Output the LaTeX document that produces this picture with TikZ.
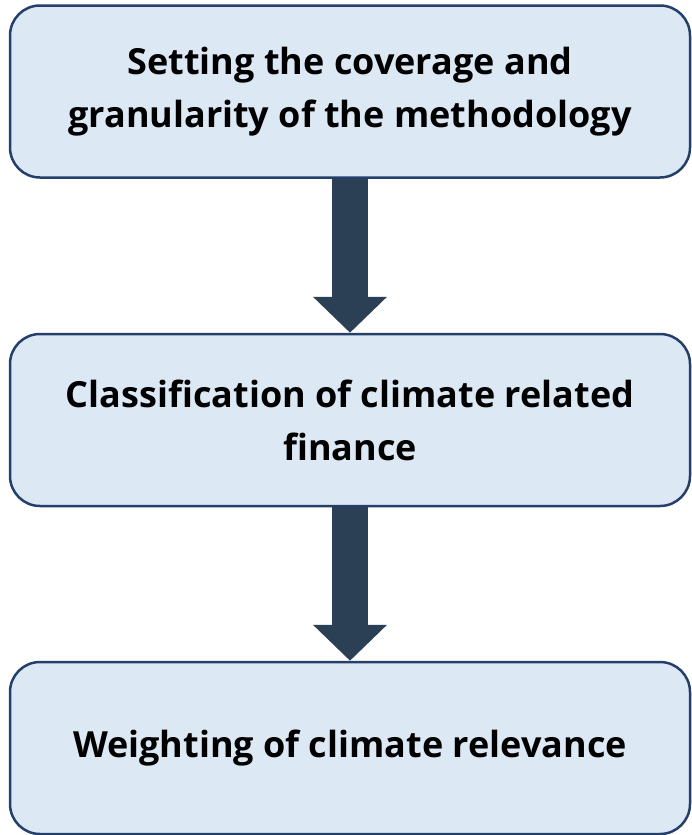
\documentclass[tikz,border=0pt]{standalone}
\usepackage{fontspec}
\setmainfont{Open Sans}
\usepackage{tikz}
\usetikzlibrary{arrows.meta}
\usetikzlibrary{positioning}
\definecolor{boxfill}{HTML}{DDE8F5}
\definecolor{boxline}{HTML}{24406A}
\definecolor{arrowcol}{HTML}{2B3F55}

\begin{document}
\begin{tikzpicture}[
x=1pt,y=1pt,
StepBox/.style={draw=boxline,fill=boxfill,line width=2.5pt,rounded corners=30pt,
  minimum width=680pt,minimum height=172pt,align=center,
  font=\fontsize{36}{53}\selectfont\bfseries},
BigArrow/.style={draw=arrowcol,line width=36pt,-{Triangle[length=36pt,width=72pt]}}
]
\useasboundingbox (0,0) rectangle (692,-835);

\node[StepBox] (cover) at (350,-91.5) {Setting the coverage and\\granularity of the methodology};
\node[StepBox] (classify) at (350,-420) {Classification of climate related\\finance};
\node[StepBox] (weight) at (350,-748) {Weighting of climate relevance};

\draw[BigArrow] (cover.south) -- (classify.north);
\draw[BigArrow] (classify.south) -- (weight.north);

\end{tikzpicture}
\end{document}
